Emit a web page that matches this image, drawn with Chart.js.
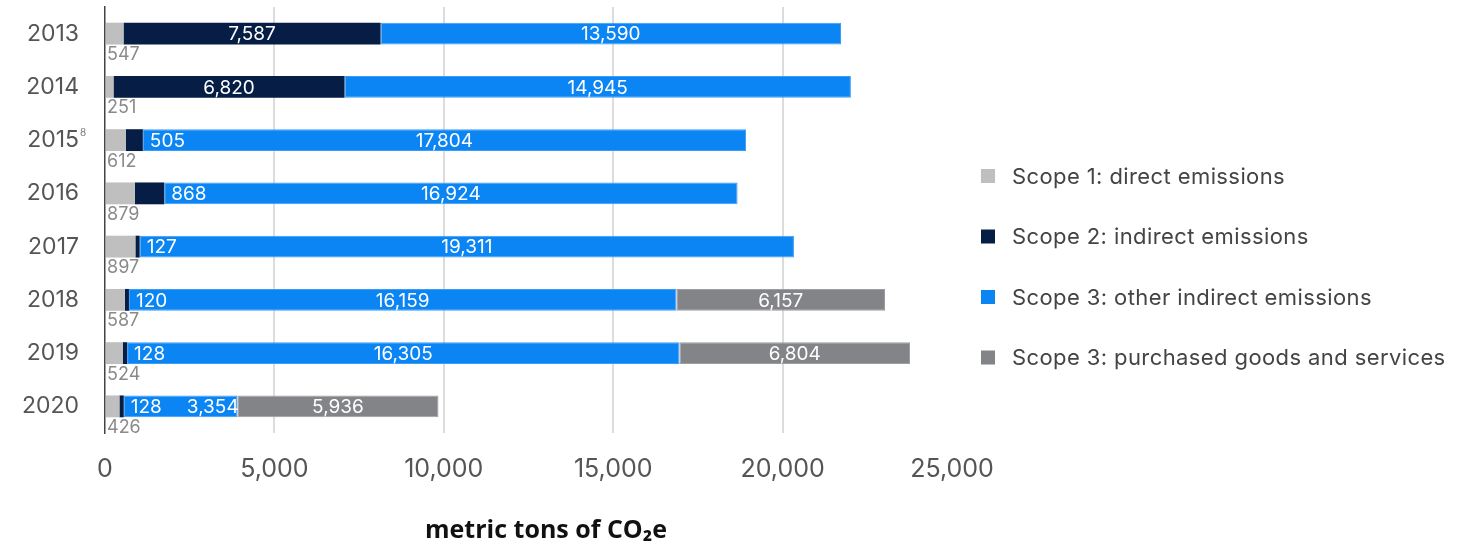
<!DOCTYPE html>
<html lang="en">
<head>
    <meta charset="UTF-8">
    <title>Emissions by scope</title>
    <script src="https://cdn.jsdelivr.net/npm/chart.js"></script>
    <style>
        html, body { margin: 0; padding: 0; background: #fff; }
        .chart-wrap { width: 1474px; height: 549px; }
    </style>
</head>
<body>
    <div class="chart-wrap">
        <canvas id="emissionsChart"></canvas>
    </div>

    <script>
        // data
        const years = ['2013', '2014', '2015', '2016', '2017', '2018', '2019', '2020'];
        const yearNotes = ['', '', '8', '', '', '', '', ''];
        const scope1 = [547, 251, 612, 879, 897, 587, 524, 426];
        const scope2 = [7587, 6820, 505, 868, 127, 120, 128, 128];
        const scope3Other = [13590, 14945, 17804, 16924, 19311, 16159, 16305, 3354];
        const scope3Purchased = [null, null, null, null, null, 6157, 6804, 5936];
        const xTicks = [0, 5000, 10000, 15000, 20000, 25000];
        const axisTitle = 'metric tons of CO₂e';

        const fmt = v => Number(v).toLocaleString('en-US');

        // value labels on the bar segments
        const barLabels = {
            id: 'barLabels',
            afterDatasetsDraw(chart) {
                const ctx = chart.ctx;
                const labelEnd = {};
                ctx.save();
                ctx.textBaseline = 'middle';
                ctx.textAlign = 'left';
                chart.data.datasets.forEach((ds, i) => {
                    const meta = chart.getDatasetMeta(i);
                    meta.data.forEach((bar, j) => {
                        const v = ds.data[j];
                        if (v == null) return;
                        const text = fmt(v);
                        const left = Math.min(bar.x, bar.base);
                        const right = Math.max(bar.x, bar.base);
                        if (i === 0) {
                            // scope 1 sits under the bar in grey
                            ctx.font = '18px Inter';
                            ctx.fillStyle = '#8a8a8a';
                            ctx.fillText(text, left + 1, bar.y + 21);
                            return;
                        }
                        ctx.font = '19px Inter';
                        ctx.fillStyle = '#fff';
                        const w = ctx.measureText(text).width;
                        let x = (left + right) / 2 - w / 2;
                        if (i === 1 && right - left < w + 12) {
                            x = right + 7;
                        }
                        if (i === 2 && labelEnd[j] !== undefined) {
                            x = Math.max(x, labelEnd[j] + 25);
                        }
                        ctx.fillText(text, x, bar.y + 1);
                        if (i === 1) labelEnd[j] = x + w;
                    });
                });
                ctx.restore();
            }
        };

        // legend on the right, footnote marks and the x axis title
        const sideLegend = {
            id: 'sideLegend',
            afterDraw(chart) {
                const ctx = chart.ctx;
                const yScale = chart.scales.y;
                ctx.save();
                ctx.textBaseline = 'middle';
                ctx.textAlign = 'left';
                chart.data.datasets.forEach((ds, i) => {
                    const y = 176 + i * 60.5;
                    ctx.fillStyle = ds.backgroundColor;
                    ctx.fillRect(981, y - 7, 14, 14);
                    ctx.fillStyle = '#444';
                    ctx.font = '22px Inter';
                    ctx.letterSpacing = '0.4px';
                    ctx.fillText(ds.label, 1012, y + 1);
                });
                ctx.letterSpacing = '0px';

                ctx.fillStyle = '#777';
                ctx.font = '10px Inter';
                yearNotes.forEach((note, j) => {
                    if (!note) return;
                    ctx.fillText(note, yScale.right - 25, yScale.getPixelForValue(j) - 7);
                });

                ctx.textAlign = 'center';
                ctx.fillStyle = '#111';
                ctx.font = 'bold 25px "Open Sans"';
                ctx.fillText(axisTitle, 546, 531);
                ctx.restore();
            }
        };

        const ctx = document.getElementById('emissionsChart').getContext('2d');
        new Chart(ctx, {
            type: 'bar',
            data: {
                labels: years,
                datasets: [{
                    label: 'Scope 1: direct emissions',
                    data: scope1,
                    backgroundColor: '#bebfbe'
                }, {
                    label: 'Scope 2: indirect emissions',
                    data: scope2,
                    backgroundColor: '#061d45'
                }, {
                    label: 'Scope 3: other indirect emissions',
                    data: scope3Other,
                    backgroundColor: '#0a85f3',
                    borderColor: '#3d9df5',
                    borderWidth: 1,
                    borderSkipped: false
                }, {
                    label: 'Scope 3: purchased goods and services',
                    data: scope3Purchased,
                    backgroundColor: '#838488',
                    borderColor: '#9d9ea1',
                    borderWidth: 1,
                    borderSkipped: false
                }]
            },
            options: {
                indexAxis: 'y',
                responsive: true,
                maintainAspectRatio: false,
                animation: false,
                categoryPercentage: 1,
                barPercentage: 0.41,
                layout: { padding: { top: 7, left: 0, right: 522, bottom: 0 } },
                plugins: {
                    tooltip: { enabled: false },
                    legend: { display: false }
                },
                scales: {
                    x: {
                        stacked: true,
                        min: 0,
                        max: 25000,
                        afterBuildTicks: axis => { axis.ticks = xTicks.map(v => ({ value: v })); },
                        afterFit: s => { s.height = 116; s.paddingLeft = 0; s.paddingRight = 0; },
                        grid: {
                            color: c => (c.tick && (c.tick.value === 25000 || c.tick.value === 0)) ? 'rgba(0,0,0,0)' : '#dcdcdc',
                            lineWidth: 2,
                            drawTicks: false
                        },
                        border: { display: false },
                        ticks: {
                            padding: 21,
                            maxRotation: 0,
                            color: '#555',
                            font: { family: 'Inter', size: 25 },
                            callback: v => fmt(v)
                        }
                    },
                    y: {
                        stacked: true,
                        afterFit: s => { s.width = 105; s.paddingTop = 0; s.paddingBottom = 0; },
                        grid: { display: false, drawTicks: false },
                        border: { display: true, color: '#444', width: 1.5 },
                        ticks: {
                            padding: 26,
                            color: '#555',
                            font: { family: 'Inter', size: 23 }
                        }
                    }
                }
            },
            plugins: [barLabels, sideLegend]
        });
    </script>
</body>
</html>
